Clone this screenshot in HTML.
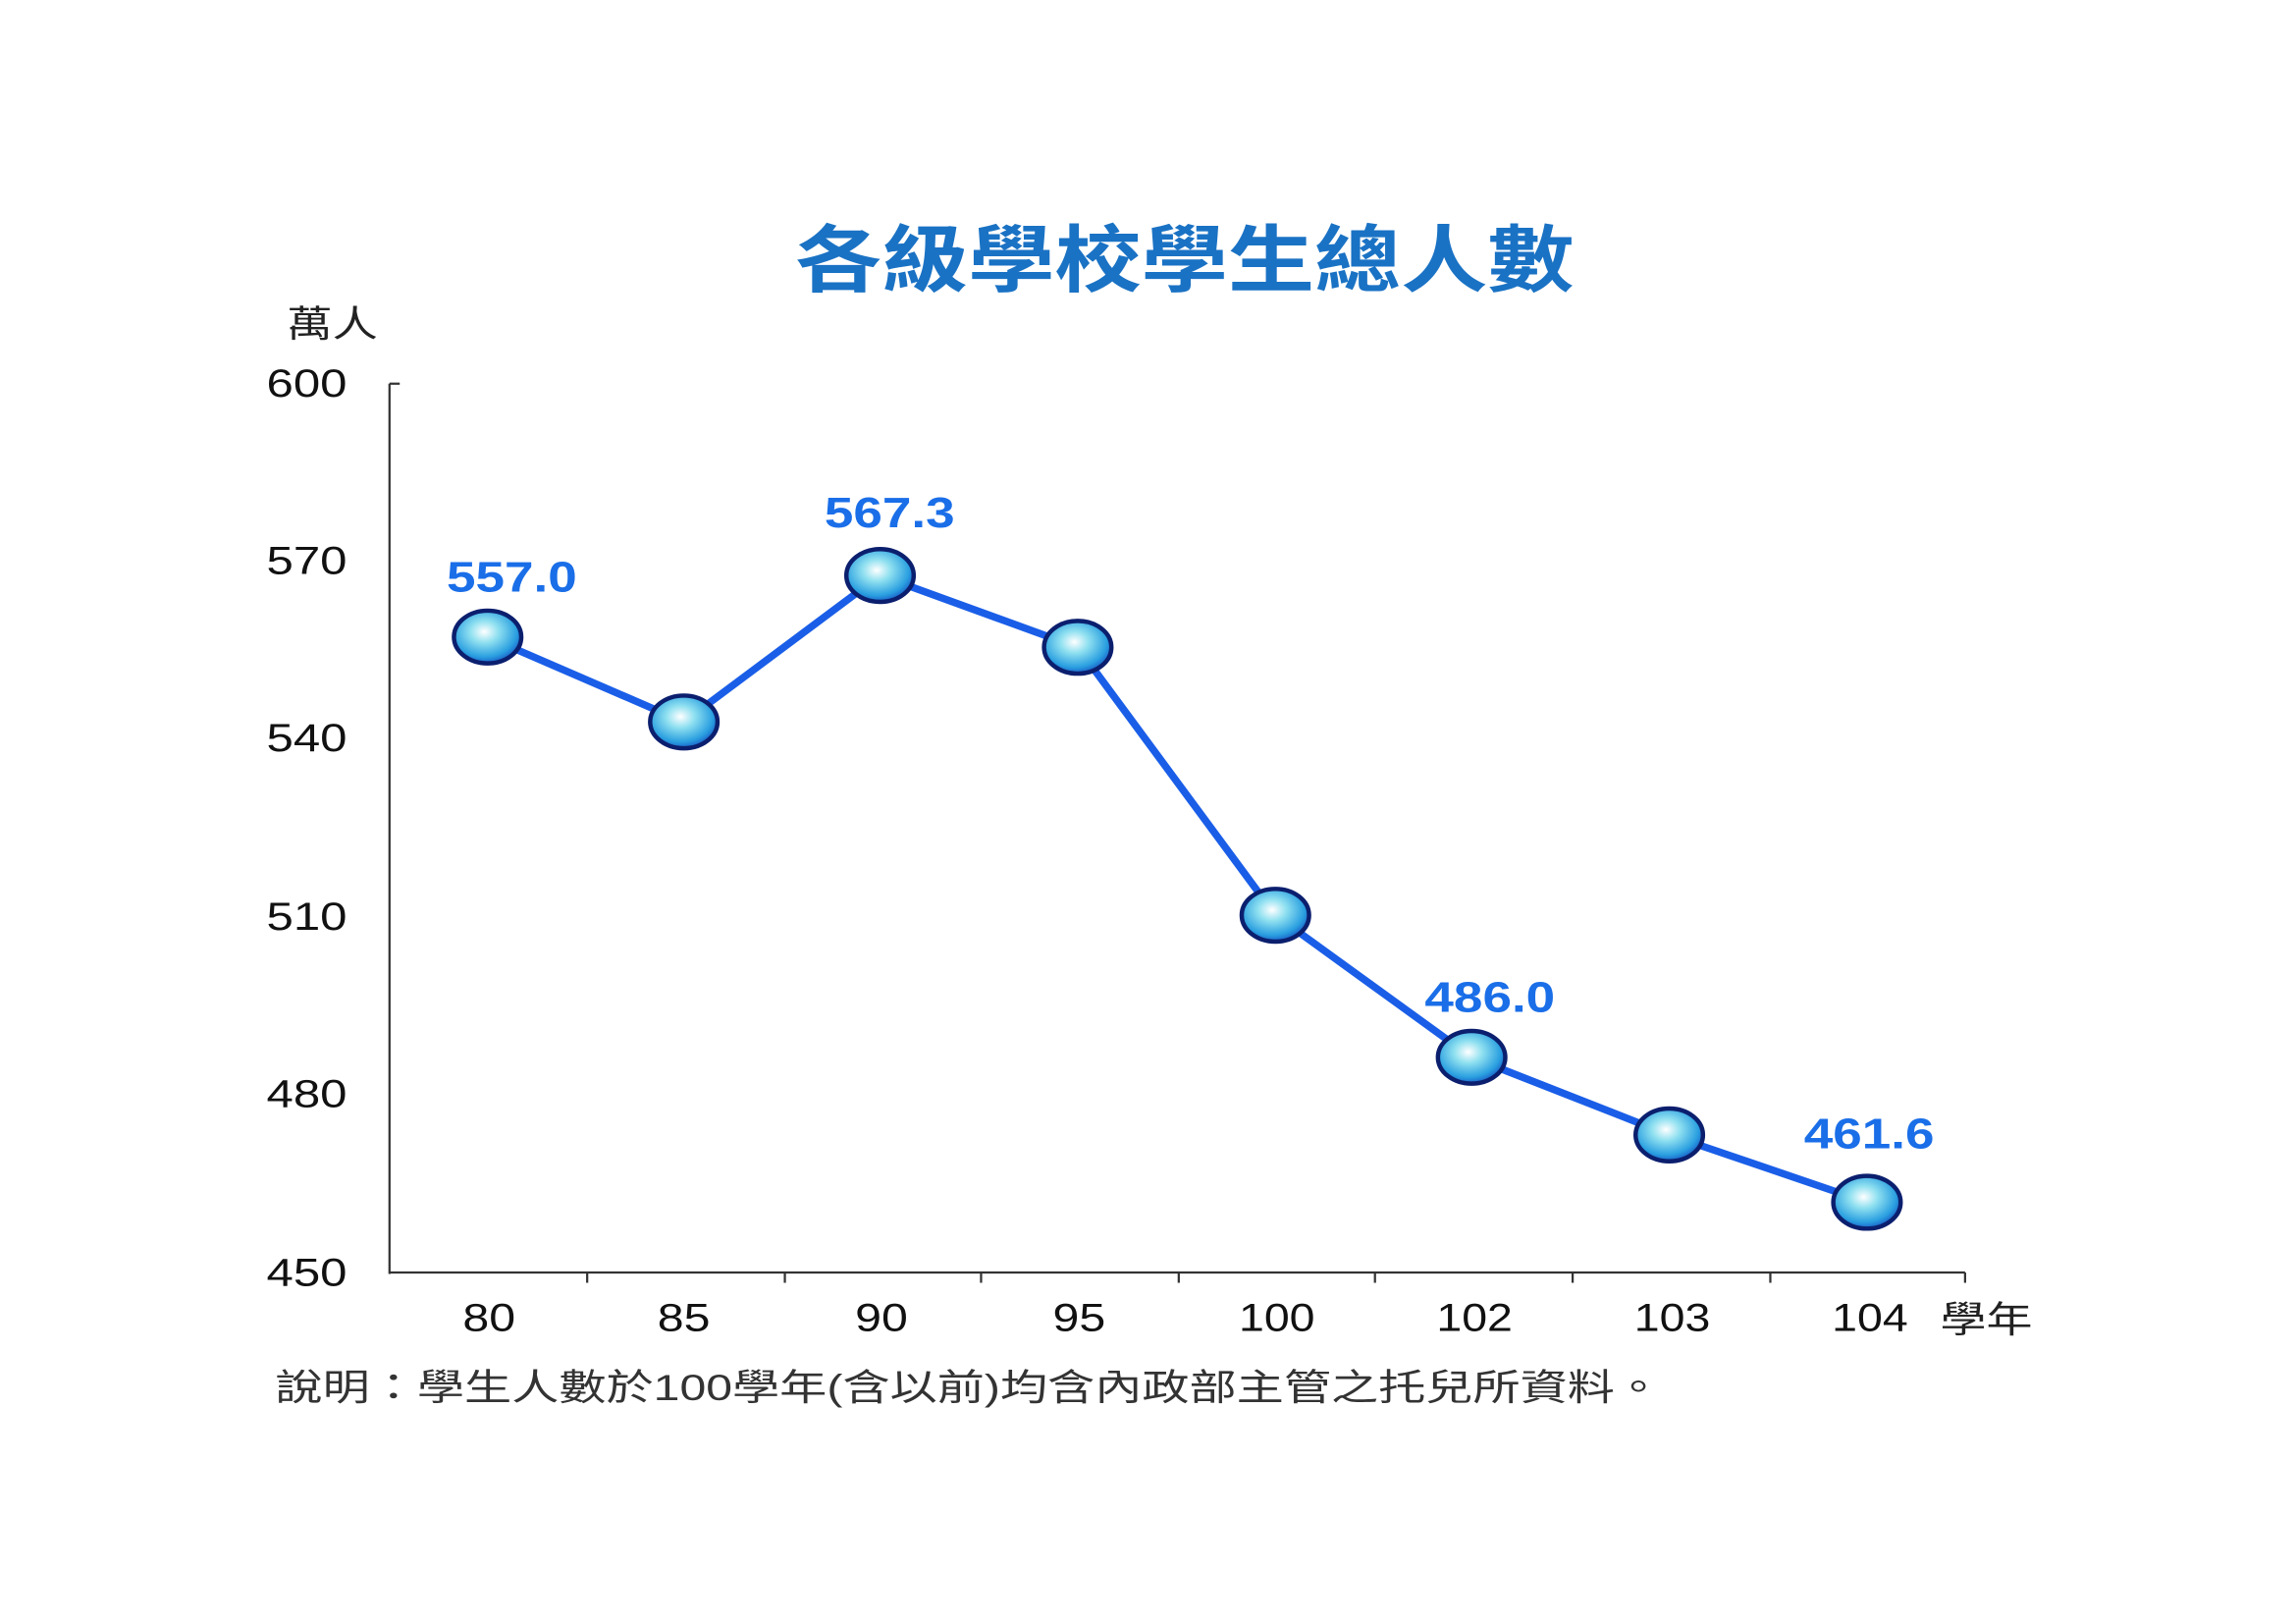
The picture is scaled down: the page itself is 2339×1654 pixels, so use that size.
<!DOCTYPE html>
<html><head><meta charset="utf-8"><style>
html,body{margin:0;padding:0;background:#fff;}
svg{display:block;}
text{font-family:"Liberation Sans","Noto Sans CJK TC",sans-serif;}
</style></head><body>
<svg width="2339" height="1654" viewBox="0 0 1568 1109" preserveAspectRatio="none" xmlns="http://www.w3.org/2000/svg">
<defs>
<radialGradient id="g" cx="0.45" cy="0.4" r="0.6">
<stop offset="0" stop-color="#ffffff"/>
<stop offset="0.35" stop-color="#8fe0f0"/>
<stop offset="0.8" stop-color="#2a9fe0"/>
<stop offset="1" stop-color="#1a5fc8"/>
</radialGradient>
</defs>
<text x="543" y="195" font-size="50" font-weight="bold" fill="#1a72c4" textLength="532" lengthAdjust="spacingAndGlyphs">各級學校學生總人數</text>
<text x="196" y="230" font-size="25" fill="#222" textLength="62" lengthAdjust="spacingAndGlyphs">萬人</text>
<g font-size="27" fill="#111">
<text x="182" y="271" textLength="55" lengthAdjust="spacingAndGlyphs">600</text>
<text x="182" y="392" textLength="55" lengthAdjust="spacingAndGlyphs">570</text>
<text x="182" y="513" textLength="55" lengthAdjust="spacingAndGlyphs">540</text>
<text x="182" y="635" textLength="55" lengthAdjust="spacingAndGlyphs">510</text>
<text x="182" y="756" textLength="55" lengthAdjust="spacingAndGlyphs">480</text>
<text x="182" y="878" textLength="55" lengthAdjust="spacingAndGlyphs">450</text>
</g>
<g stroke="#333" stroke-width="1.5" fill="none">
<line x1="266" y1="262" x2="266" y2="870"/>
<line x1="266" y1="262" x2="273" y2="262"/>
<line x1="266" y1="869" x2="1342" y2="869"/>
<line x1="401" y1="869" x2="401" y2="876"/>
<line x1="536" y1="869" x2="536" y2="876"/>
<line x1="670" y1="869" x2="670" y2="876"/>
<line x1="805" y1="869" x2="805" y2="876"/>
<line x1="939" y1="869" x2="939" y2="876"/>
<line x1="1074" y1="869" x2="1074" y2="876"/>
<line x1="1209" y1="869" x2="1209" y2="876"/>
<line x1="1342" y1="869" x2="1342" y2="876"/>
</g>
<g font-size="27" fill="#111">
<text x="316" y="909" textLength="36" lengthAdjust="spacingAndGlyphs">80</text>
<text x="449" y="909" textLength="36" lengthAdjust="spacingAndGlyphs">85</text>
<text x="584" y="909" textLength="36" lengthAdjust="spacingAndGlyphs">90</text>
<text x="719" y="909" textLength="36" lengthAdjust="spacingAndGlyphs">95</text>
<text x="846" y="909" textLength="52" lengthAdjust="spacingAndGlyphs">100</text>
<text x="981" y="909" textLength="52" lengthAdjust="spacingAndGlyphs">102</text>
<text x="1116" y="909" textLength="52" lengthAdjust="spacingAndGlyphs">103</text>
<text x="1251" y="909" textLength="52" lengthAdjust="spacingAndGlyphs">104</text>
</g>
<text x="1325" y="910" font-size="25" fill="#222" textLength="63" lengthAdjust="spacingAndGlyphs">學年</text>
<text x="188" y="956" font-size="25" fill="#333" textLength="947" lengthAdjust="spacingAndGlyphs">說明：學生人數於100學年(含以前)均含內政部主管之托兒所資料。</text>
<polyline points="333,435 467,493 601,393 736,442 871,625 1005,722 1140,775 1275,821" fill="none" stroke="#1a5ee8" stroke-width="5" stroke-linejoin="round"/>
<g stroke="#0b1f6e" stroke-width="3" fill="url(#g)">
<ellipse cx="333" cy="435" rx="23" ry="18"/>
<ellipse cx="467" cy="493" rx="23" ry="18"/>
<ellipse cx="601" cy="393" rx="23" ry="18"/>
<ellipse cx="736" cy="442" rx="23" ry="18"/>
<ellipse cx="871" cy="625" rx="23" ry="18"/>
<ellipse cx="1005" cy="722" rx="23" ry="18"/>
<ellipse cx="1140" cy="775" rx="23" ry="18"/>
<ellipse cx="1275" cy="821" rx="23" ry="18"/>
</g>
<g font-size="29" font-weight="bold" fill="#1a6ee8">
<text x="305" y="404" textLength="89" lengthAdjust="spacingAndGlyphs">557.0</text>
<text x="563" y="360" textLength="89" lengthAdjust="spacingAndGlyphs">567.3</text>
<text x="973" y="691" textLength="89" lengthAdjust="spacingAndGlyphs">486.0</text>
<text x="1232" y="784" textLength="89" lengthAdjust="spacingAndGlyphs">461.6</text>
</g>
</svg>
</body></html>
